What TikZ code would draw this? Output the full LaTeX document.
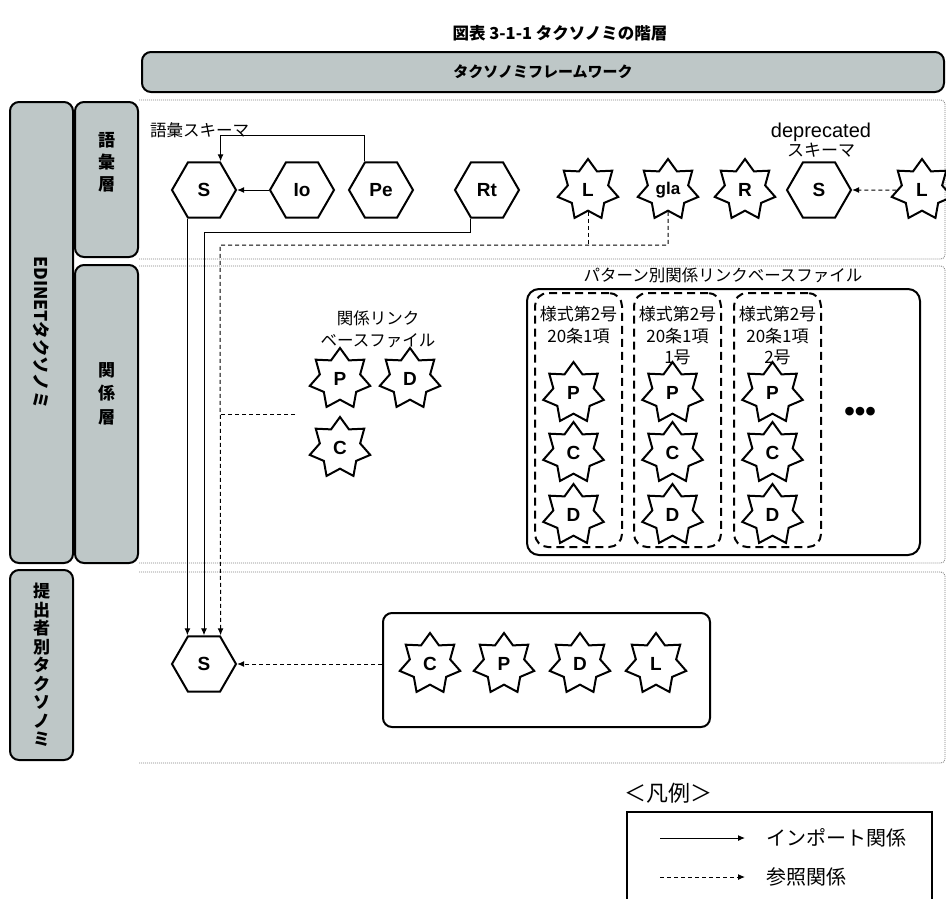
\documentclass[tikz,border=0pt]{standalone}
\usepackage{fontspec}
\setmainfont{Liberation Sans}
\newfontfamily\jp{Noto Sans CJK JP}
\usetikzlibrary{positioning}
\usetikzlibrary{calc}
\usetikzlibrary{arrows.meta}
\usetikzlibrary{shapes.geometric}
\definecolor{layergray}{RGB}{190,199,199}
\tikzset{
	hexa/.style={draw,line width=2pt,regular polygon,regular polygon sides=6,minimum size=64pt,inner sep=0pt,font=\bfseries\fontsize{19}{19}\selectfont},
	burst/.style={draw,line width=2pt,star,star points=7,star point ratio=1.5,minimum size=62pt,inner sep=0pt,font=\bfseries\fontsize{19}{19}\selectfont},
	layerbox/.style={draw,line width=2pt,rounded corners=9pt,fill=layergray,inner sep=0pt,font=\jp\bfseries\fontsize{17.5}{22}\selectfont,align=center},
	laytext/.style={font=\jp\bfseries\fontsize{17}{#1}\selectfont,align=center,inner sep=0pt},
	groupbox/.style={draw,line width=2pt,dash pattern=on 8pt off 5pt,rounded corners=13pt,minimum width=87pt,minimum height=254pt},
	filebox/.style={draw,line width=2pt,rounded corners=12pt},
	rowframe/.style={draw=gray,line width=0.8pt,dash pattern=on 1pt off 1pt,rounded corners=4pt},
	jlabel/.style={font=\jp\fontsize{16.5}{22}\selectfont,align=center,inner sep=0pt},
	impline/.style={line width=1pt},
	refline/.style={line width=1pt,dash pattern=on 4pt off 3pt},
	imp/.style={impline,-{Latex[length=7pt,width=6pt]}},
	ref/.style={refline,-{Latex[length=7pt,width=6pt]}},
}

\begin{document}
\begin{tikzpicture}[x=1pt,y=-1pt]
	\useasboundingbox (0,0) rectangle (946,898);

	%title.....................
	\node[font=\jp\bfseries\fontsize{16.5}{20}\selectfont] (title) at (560,33) {図表 3-1-1 タクソノミの階層};
	\node[layerbox,minimum width=802pt,minimum height=40pt,font=\jp\bfseries\fontsize{15}{15}\selectfont] (framework) at (543,72) {タクソノミフレームワーク};

	%row frames.....................
	\draw[rowframe] (139,100) -- (945,100) -- (945,259) -- (139,259);
	\draw[rowframe] (139,266) -- (945,266) -- (945,563) -- (139,563);
	\draw[rowframe] (139,572) -- (945,572) -- (945,763) -- (139,763);

	%layer boxes.....................
	\node[layerbox,rotate=-90,minimum width=461pt,minimum height=63pt] (edinet) at (41.5,332.5) {EDINETタクソノミ};
	\node[layerbox,minimum width=63pt,minimum height=155pt] (vocab) at (106.5,179.5) {};
	\node[laytext=22pt,below=31pt of vocab.north] (vocabtxt) {語\\彙\\層};
	\node[layerbox,minimum width=63pt,minimum height=298pt] (rel) at (106.5,414) {};
	\node[laytext=23.5pt,below=98pt of rel.north] (reltxt) {関\\係\\層};
	\node[layerbox,minimum width=63pt,minimum height=190pt] (filer) at (41.5,665) {};
	\node[laytext=18.5pt] (filertxt) at (filer) {提\\出\\者\\別\\タ\\ク\\ソ\\ノ\\ミ};

	%vocabulary layer.....................
	\node[jlabel,anchor=west] (vocname) at (150,130) {語彙スキーマ};
	\node[hexa] (vocS) at (204,190) {S};
	\node[hexa] (io) at (302,190) {Io};
	\node[hexa] (pe) at (381,190) {Pe};
	\node[hexa] (rt) at (487,190) {Rt};
	\node[burst] (lab) at (588,190) {L};
	\node[burst,font=\bfseries\fontsize{17}{17}\selectfont] (gla) at (668,190) {gla};
	\node[burst] (res) at (745,190) {R};
	\node[font=\fontsize{20}{19}\selectfont,align=center,inner sep=0pt] (depname) at (821,140) {deprecated\\\jp\fontsize{17}{19}\selectfont スキーマ};
	\node[hexa] (depS) at (819,190) {S};
	\node[burst] (depL) at (922,190) {L};

	\draw[imp] (io.corner 3) -- (vocS.corner 6);
	\draw[imp] (pe.corner 2) -- ++(0,-26) -| (vocS.corner 1);
	\draw[ref] (depL.west) -- (depS.corner 6);

	%relation layer.....................
	\node[jlabel] (lnkname) at (378,329) {関係リンク\\ベースファイル};
	\node[burst] (lnkP) at (340,379) {P};
	\node[burst] (lnkD) at (410,379) {D};
	\node[burst] (lnkC) at (340,448) {C};

	\node[jlabel] (patname) at (723,275) {パターン別関係リンクベースファイル};
	\node[filebox,minimum width=393pt,minimum height=266pt] (patbox) at (723.5,422) {};
	\foreach \g/\x/\txt in {1/578.5/{様式第2号\\20条1項},2/677.5/{様式第2号\\20条1項\\1号},3/777.5/{様式第2号\\20条1項\\2号}}{
		\node[groupbox] (grp\g) at (\x,420) {};
		\node[jlabel,anchor=north,font=\jp\fontsize{17}{21.5}\selectfont] (grptxt\g) at (\x,306) {\txt};
		\node[burst] (grpP\g) at (\x-5,393) {P};
		\node[burst] (grpC\g) at (\x-5,453) {C};
		\node[burst] (grpD\g) at (\x-5,515) {D};
	}
	\node[font=\bfseries\fontsize{30}{30}\selectfont,inner sep=0pt] (more) at (860,414) {•••};

	%filer layer.....................
	\node[hexa] (subS) at (204,664) {S};
	\node[filebox,rounded corners=9pt,minimum width=327pt,minimum height=114pt] (subbox) at (546.5,670) {};
	\foreach \n/\x in {C/430,P/504,D/580,L/656}
		\node[burst] (sub\n) at (\x,664) {\n};
	\draw[ref] (subS.corner 6 -| subbox.west) -- (subS.corner 6);

	%imports and references.....................
	\coordinate (bus) at (220,245);
	\coordinate (lnkend) at (295,414);
	\draw[imp] (vocS.corner 4) -- (subS.corner 2);
	\draw[imp] (rt.corner 4) -- ++(0,14) -| (subS.north);
	\draw[refline] (lab.south) -- (lab.south |- bus);
	\draw[ref] (gla.south) |- (bus) -- (subS.corner 1);
	\draw[refline] (lnkend) -- (lnkend -| bus);

	%legend.....................
	\node[font=\jp\fontsize{22}{22}\selectfont] (legtitle) at (668,793) {＜凡例＞};
	\node[draw,line width=1.2pt,minimum width=305pt,minimum height=100pt] (legend) at (779.5,862) {};
	\coordinate (impa) at (660,838);
	\coordinate (impb) at (745,838);
	\coordinate (refa) at (660,877);
	\coordinate (refb) at (745,877);
	\draw[imp] (impa) -- (impb);
	\draw[ref] (refa) -- (refb);
	\node[jlabel,anchor=west,font=\jp\fontsize{20}{20}\selectfont] (impname) at (766,838) {インポート関係};
	\node[jlabel,anchor=west,font=\jp\fontsize{20}{20}\selectfont] (refname) at (766,877) {参照関係};

\end{tikzpicture}
\end{document}
